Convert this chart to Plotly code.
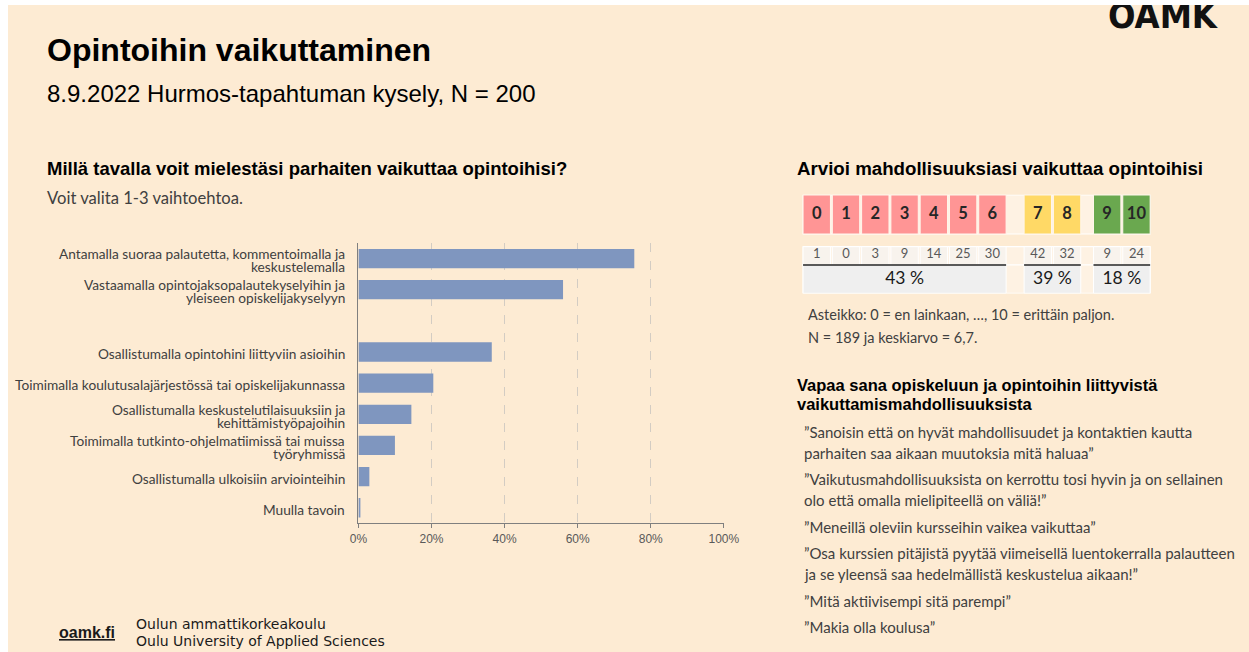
import plotly.graph_objects as go

# page: 1249 x 652 window; body margin 5px top / 8px left, figure fills the rest
PAGE_W, PAGE_H = 1249, 652
OFF_X, OFF_Y = 8, 5
W, H = PAGE_W - OFF_X, PAGE_H - OFF_Y
BG = "#FDEBD3"

# ---------------- data ----------------
answer_labels = [
    "Antamalla suoraa palautetta, kommentoimalla ja<br>keskustelemalla",
    "Vastaamalla opintojaksopalautekyselyihin ja<br>yleiseen opiskelijakyselyyn",
    " ",
    "Osallistumalla opintohini liittyviin asioihin",
    "Toimimalla koulutusalajärjestössä tai opiskelijakunnassa",
    "Osallistumalla keskustelutilaisuuksiin ja<br>kehittämistyöpajoihin",
    "Toimimalla tutkinto-ohjelmatiimissä tai muissa<br>työryhmissä",
    "Osallistumalla ulkoisiin arviointeihin",
    "Muulla tavoin",
]
answer_shares = [75.5, 56.0, None, 36.5, 20.5, 14.5, 10.0, 3.0, 0.5]
share_ticks = [0, 20, 40, 60, 80, 100]
share_tick_labels = ["0%", "20%", "40%", "60%", "80%", "100%"]

ratings = ["0", "1", "2", "3", "4", "5", "6", "7", "8", "9", "10"]
rating_counts = [1, 0, 3, 9, 14, 25, 30, 42, 32, 9, 24]
rating_groups = [0, 0, 0, 0, 0, 0, 0, 1, 1, 2, 2]
group_percent_labels = ["43 %", "39 %", "18 %"]
group_colors = ["#FF9595", "#FFD966", "#6AA84F"]

main_title = "Opintoihin vaikuttaminen"
sub_title = "8.9.2022 Hurmos-tapahtuman kysely, N = 200"
left_question = "Millä tavalla voit mielestäsi parhaiten vaikuttaa opintoihisi?"
left_note = "Voit valita 1-3 vaihtoehtoa."
right_question = "Arvioi mahdollisuuksiasi vaikuttaa opintoihisi"
scale_note = "Asteikko: 0 = en lainkaan, …, 10 = erittäin paljon."
stats_note = "N = 189 ja keskiarvo = 6,7."
free_title = ["Vapaa sana opiskeluun ja opintoihin liittyvistä",
              "vaikuttamismahdollisuuksista"]
quotes = [
    ["”Sanoisin että on hyvät mahdollisuudet ja kontaktien kautta",
     "parhaiten saa aikaan muutoksia mitä haluaa”"],
    ["”Vaikutusmahdollisuuksista on kerrottu tosi hyvin ja on sellainen",
     "olo että omalla mielipiteellä on väliä!”"],
    ["”Meneillä oleviin kursseihin vaikea vaikuttaa”"],
    ["”Osa kurssien pitäjistä pyytää viimeisellä luentokerralla palautteen",
     "ja se yleensä saa hedelmällistä keskustelua aikaan!”"],
    ["”Mitä aktiivisempi sitä parempi”"],
    ["”Makia olla koulusa”"],
]
footer_site = "oamk.fi"
footer_lines = ["Oulun ammattikorkeakoulu", "Oulu University of Applied Sciences"]
logo_text = "OAMK"

# ---------------- helpers (layout: picture pixels -> paper) ----------------
SX, BX = 0.9806, 8.8   # horizontal calibration of the captured picture

def px(x):
    return ((x - BX) / SX - OFF_X) / W

def py(y):
    return 1 - (y - OFF_Y) / H

ARIAL = "Liberation Sans, Arial, sans-serif"
CAL = "Lato, Carlito, Calibri, sans-serif"

fig = go.Figure()

# ---------------- left bar chart ----------------
fig.add_trace(go.Bar(
    x=answer_shares, y=answer_labels, orientation="h",
    marker=dict(color="#7F96BF", line=dict(width=0)),
    width=0.62, xaxis="x", yaxis="y", hoverinfo="x+y",
))

annotations = []
LINE_H = 13
for lab in answer_labels:
    if not lab.strip():
        continue
    lines = lab.split("<br>")
    n = len(lines)
    for j, line in enumerate(lines):
        annotations.append(dict(
            x=px(347), xref="paper", xanchor="right",
            y=lab, yref="y", yanchor="middle",
            yshift=((n - 1) / 2 - j) * LINE_H - 1.5,
            text=line, showarrow=False,
            font=dict(family=CAL, size=13.7, color="#404040"),
        ))

# ---------------- right rating table ----------------
GROUP_SHIFT = [0.0, 0.55, 0.92]
CELL_W = 0.935
positions = [i + GROUP_SHIFT[g] for i, g in enumerate(rating_groups)]
group_ids = sorted(set(rating_groups))
g_left = [min(p for p, g in zip(positions, rating_groups) if g == k) - CELL_W / 2 for k in group_ids]
g_right = [max(p for p, g in zip(positions, rating_groups) if g == k) + CELL_W / 2 for k in group_ids]
g_center = [(a + b) / 2 for a, b in zip(g_left, g_right)]
g_span = [b - a for a, b in zip(g_left, g_right)]
t_left, t_right = min(g_left), max(g_right)

ROW_COLOR = (59.5, 39.0)
ROW_COUNT = (28.5, 18.3)
ROW_PCT = (0.2, 28.3)

fig.add_trace(go.Bar(
    x=[(t_left + t_right) / 2] * 3,
    y=[ROW_COLOR[1], ROW_COUNT[1], ROW_PCT[1]],
    base=[ROW_COLOR[0], ROW_COUNT[0], ROW_PCT[0]],
    width=[t_right - t_left] * 3,
    marker=dict(color="#FEF2E3", line=dict(color="white", width=1.2)),
    xaxis="x2", yaxis="y2", hoverinfo="skip",
))
fig.add_trace(go.Bar(
    x=positions, y=[ROW_COLOR[1]] * len(ratings), base=ROW_COLOR[0],
    width=CELL_W,
    marker=dict(color=[group_colors[g] for g in rating_groups],
                line=dict(color="#FFF6EC", width=1)),
    xaxis="x2", yaxis="y2", hoverinfo="skip",
))
fig.add_trace(go.Bar(
    x=positions, y=[ROW_COUNT[1]] * len(ratings), base=ROW_COUNT[0],
    width=CELL_W,
    marker=dict(color="#F8F3ED", line=dict(color="white", width=1)),
    xaxis="x2", yaxis="y2", hoverinfo="skip",
))
fig.add_trace(go.Bar(
    x=g_center, y=[ROW_PCT[1]] * len(g_center), base=ROW_PCT[0],
    width=g_span,
    marker=dict(color="#EFEFEF", line=dict(color="white", width=1)),
    xaxis="x2", yaxis="y2", hoverinfo="skip",
))
lx, ly = [], []
for a, b in zip(g_left, g_right):
    lx += [a, b, None]
    ly += [ROW_COUNT[0], ROW_COUNT[0], None]
fig.add_trace(go.Scatter(
    x=lx, y=ly, mode="lines", line=dict(color="#595959", width=2),
    xaxis="x2", yaxis="y2", hoverinfo="skip",
))
fig.add_trace(go.Scatter(
    x=positions, y=[ROW_COLOR[0] + ROW_COLOR[1] / 2] * len(ratings),
    mode="text", text=[f"<b>{r}</b>" for r in ratings],
    textfont=dict(family=CAL, size=16.5, color="#262626"),
    xaxis="x2", yaxis="y2", hoverinfo="skip",
))
fig.add_trace(go.Scatter(
    x=positions, y=[ROW_COUNT[0] + ROW_COUNT[1] / 2 + 1] * len(ratings),
    mode="text", text=[str(c) for c in rating_counts],
    textfont=dict(family=CAL, size=13, color="#595959"),
    xaxis="x2", yaxis="y2", hoverinfo="skip",
))
fig.add_trace(go.Scatter(
    x=g_center, y=[ROW_PCT[0] + ROW_PCT[1] / 2] * len(g_center),
    mode="text", text=group_percent_labels,
    textfont=dict(family=CAL, size=17.5, color="#1A1A1A"),
    xaxis="x2", yaxis="y2", hoverinfo="skip",
))

# ---------------- text blocks ----------------
def txt(x, y, s, size, family=ARIAL, color="#000000", bold=False, anchor="left"):
    annotations.append(dict(
        x=px(x), y=py(y), xref="paper", yref="paper",
        xanchor=anchor, yanchor="middle",
        text=f"<b>{s}</b>" if bold else s, showarrow=False,
        font=dict(family=family, size=size, color=color),
    ))

txt(45, 50, main_title, 32, bold=True)
txt(45, 93, sub_title, 24)
txt(45, 168, left_question, 18.5, bold=True)
txt(45, 198, left_note, 16.6, family=CAL, color="#404040")
txt(795, 168, right_question, 18.7, bold=True)
txt(806, 314, scale_note, 14.5, family=CAL, color="#404040")
txt(806, 337, stats_note, 14.5, family=CAL, color="#404040")
for k, line in enumerate(free_title):
    txt(795, 385 + k * 18.5, line, 16.5, bold=True)
qy = 432
for q in quotes:
    for line in q:
        txt(802, qy, line, 15.0, family=CAL, color="#404040")
        qy += 20.5
    qy += 6.3

# footer
txt(57, 632, f"<u>{footer_site}</u>", 16, bold=True, color="#1A1A1A")
for k, line in enumerate(footer_lines):
    txt(134, 624 + k * 17, line, 14, family="DejaVu Sans, sans-serif", color="#1A1A1A")

# logo (cut at top edge of page)
annotations.append(dict(
    x=px(1106), y=py(38.5), xref="paper", yref="paper", xanchor="left", yanchor="bottom",
    text=f"<b>{logo_text}</b>", showarrow=False,
    font=dict(family="DejaVu Sans Condensed, Liberation Sans Narrow, sans-serif",
              size=36, color="#111111"),
))

fig.update_layout(
    width=W, height=H, autosize=False,
    margin=dict(l=0, r=0, t=0, b=0, pad=0),
    paper_bgcolor=BG, plot_bgcolor=BG,
    showlegend=False, barmode="overlay",
    annotations=annotations,
    xaxis=dict(
        domain=[px(358.3), px(724)], range=[0, 100],
        tickvals=share_ticks, ticktext=share_tick_labels,
        showgrid=True, gridcolor="#D3CCC3", griddash="dash", gridwidth=1,
        zeroline=False, showline=True, linecolor="#7F7F7F", linewidth=1,
        ticks="outside", ticklen=4, tickcolor="#7F7F7F",
        tickfont=dict(family=ARIAL, size=12, color="#595959"),
        anchor="y", fixedrange=True,
    ),
    yaxis=dict(
        domain=[py(523.3), py(243)],
        type="category", categoryorder="array", categoryarray=answer_labels,
        range=[len(answer_labels) - 0.5, -0.5],
        showticklabels=False, showgrid=False, zeroline=False,
        showline=True, linecolor="#7F7F7F", linewidth=1, ticks="",
        anchor="x", fixedrange=True,
    ),
    xaxis2=dict(
        domain=[px(817 - 0.5 * 29.3), px(817 + 11.5 * 29.3)], range=[-0.5, 11.5],
        visible=False, anchor="y2", fixedrange=True,
    ),
    yaxis2=dict(
        domain=[py(293.5), py(194.5)], range=[0, 99],
        visible=False, anchor="x2", fixedrange=True,
    ),
)

page_css = (
    "document.documentElement.style.overflow='hidden';"
    "document.body.style.overflow='hidden';"
    f"document.body.style.margin='{OFF_Y}px 0 0 {OFF_X}px';"
    "document.body.style.background='white';"
)
fig.write_html("out.html", post_script=page_css)
